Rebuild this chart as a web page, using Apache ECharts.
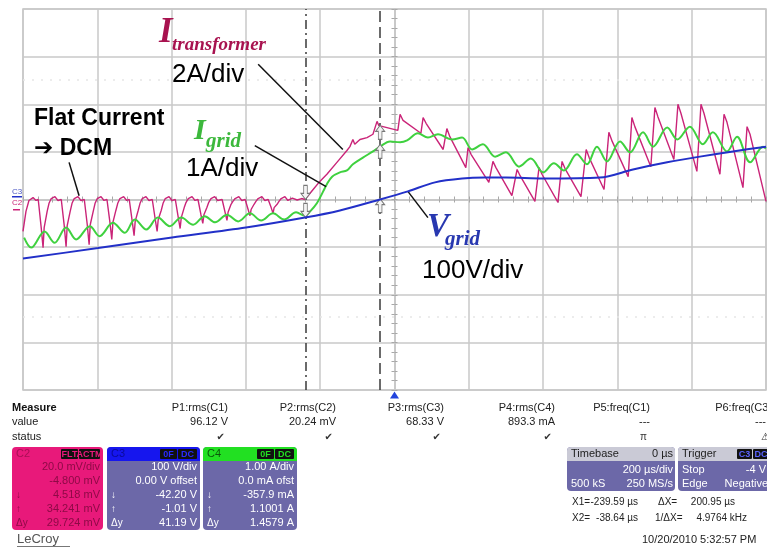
<!DOCTYPE html>
<html>
<head>
<meta charset="utf-8">
<script src="https://cdn.jsdelivr.net/npm/echarts@6/dist/echarts.min.js"></script>
<style>
html, body { margin: 0; padding: 0; background: #ffffff; }
#chart { width: 767px; height: 548px; }
</style>
</head>
<body>
<div id="chart"></div>
<script>
// Trace samples: [time in µs, vertical position in screen divisions]
const vGridTrace = [
  [-1000, -1.24], [-798, -1.02], [-599, -0.80], [-400, -0.59], [-241, -0.38], [-147, -0.23],
  [-39, 0.0], [36, 0.17], [109, 0.36], [182, 0.44], [243, 0.46], [300, 0.46], [400, 0.44],
  [553, 0.46], [642, 0.63], [734, 0.78], [822, 0.90], [911, 1.01], [1000, 1.11]
];

const iGridTrace = [
  [-997, -0.80], [-978, -1.01], [-942, -0.67], [-915, -0.91], [-884, -0.59], [-857, -0.84],
  [-820, -0.56], [-794, -0.77], [-758, -0.49], [-726, -0.70], [-699, -0.42], [-668, -0.63],
  [-637, -0.38], [-605, -0.56], [-574, -0.38], [-542, -0.53], [-511, -0.35], [-483, -0.48],
  [-451, -0.32], [-421, -0.46], [-389, -0.29], [-359, -0.44], [-327, -0.29], [-297, -0.42],
  [-265, -0.27], [-241, -0.34], [-227, -0.25], [-209, -0.08], [-192, 0.17], [-182, 0.32],
  [-168, 0.48], [-147, 0.57], [-128, 0.61], [-112, 0.74], [-85, 0.88], [-58, 1.01],
  [-39, 1.11], [-12, 1.22], [15, 1.20], [34, 1.24], [63, 1.39], [90, 1.30], [117, 1.37],
  [155, 1.26], [182, 1.30], [209, 1.05], [238, 1.16], [271, 0.90], [300, 0.99], [335, 0.69],
  [367, 0.86], [400, 0.57], [429, 0.76], [456, 0.61], [491, 0.95], [518, 0.74], [545, 1.11],
  [572, 0.80], [607, 1.22], [634, 0.99], [669, 1.41], [696, 1.11], [734, 1.51], [761, 1.26],
  [795, 1.53], [830, 1.16], [857, 1.41], [895, 1.01], [922, 1.32], [957, 0.78], [992, 1.11],
  [1000, 1.07]
];

const iTransformerTrace = [
  [-1000, -0.67], [-992, -0.25], [-984, -0.02], [-973, 0.04], [-965, -0.02],
  [-959, 0], [-951, -0.59], [-946, -1.01], [-943, -0.59], [-935, -0.25], [-930, -0.08], [-924, 0.02], [-914, 0.06], [-906, -0.02],
  [-897, 0], [-889, -0.55], [-884, -0.99], [-881, -0.55], [-873, -0.25], [-868, -0.08], [-862, 0.02], [-852, 0.06], [-844, -0.02],
  [-835, 0], [-827, -0.53], [-822, -0.95], [-819, -0.53], [-811, -0.25], [-806, -0.08], [-800, 0.02], [-790, 0.06], [-782, -0.02],
  [-774, 0], [-766, -0.48], [-761, -0.84], [-758, -0.48], [-750, -0.23], [-745, -0.08], [-739, 0.02], [-729, 0.06], [-721, -0.02],
  [-714, 0], [-706, -0.46], [-701, -0.76], [-698, -0.46], [-690, -0.23], [-685, -0.08], [-679, 0.02], [-669, 0.06], [-661, -0.02],
  [-652, 0], [-644, -0.42], [-639, -0.67], [-636, -0.42], [-628, -0.23], [-623, -0.08], [-617, 0.02], [-607, 0.06], [-599, -0.02],
  [-590, 0], [-582, -0.38], [-577, -0.61], [-574, -0.38], [-566, -0.17], [-561, -0.06], [-555, 0.02], [-545, 0.06], [-537, -0.02],
  [-529, 0], [-521, -0.32], [-516, -0.50], [-513, -0.32], [-505, -0.17], [-500, -0.06], [-494, 0.02], [-484, 0.06], [-476, -0.02],
  [-464, 0], [-456, -0.27], [-451, -0.44], [-448, -0.27], [-440, -0.10], [-435, -0.04], [-429, 0.02], [-419, 0.06], [-411, -0.02],
  [-402, 0], [-394, -0.21], [-389, -0.34], [-386, -0.21], [-378, -0.10], [-373, -0.04], [-367, 0.02], [-357, 0.06], [-349, -0.02],
  [-340, 0], [-332, -0.17], [-327, -0.29], [-324, -0.17], [-316, -0.10], [-311, -0.04], [-305, 0.02], [-295, 0.06], [-287, -0.02],
  [-275, 0.03], [-262, -0.01], [-250, 0.02], [-241, 0.0],
  [-219, 0.21], [-201, 0.38], [-182, 0.53], [-155, 0.78], [-128, 1.03], [-120, 1.11], [-112, 1.26],
  [-107, 1.16], [-93, 1.26], [-74, 1.30], [-58, 1.37], [-47, 1.64], [-42, 1.55], [-31, 1.53],
  [9, 1.45], [15, 1.79], [23, 1.66], [71, 1.39], [77, 1.72], [85, 1.60], [131, 1.05], [141, 1.49],
  [149, 1.32], [192, 0.67], [198, 1.09], [206, 0.95], [254, 0.36], [265, 0.80], [273, 0.67],
  [316, 0.08], [330, 0.63], [338, 0.50], [378, -0.04], [389, 0.67], [397, 0.53], [440, -0.06],
  [451, 0.80], [459, 0.65], [502, 0.06], [516, 1.05], [524, 0.88], [564, 0.21], [577, 1.41],
  [586, 1.22], [629, 0.48], [639, 1.72], [647, 1.53], [690, 0.69], [701, 1.93], [709, 1.74],
  [752, 0.84], [763, 2.00], [771, 1.81], [814, 0.59], [825, 2.00], [833, 1.81], [876, 0.53],
  [887, 1.79], [895, 1.62], [938, 0.25], [949, 1.53], [957, 1.37], [1000, -0.04]
];

// Cursor positions (µs)
const cursorX1 = -239.59;
const cursorX2 = -38.64;

// Measurement table
const measureHeads = ['P1:rms(C1)', 'P2:rms(C2)', 'P3:rms(C3)', 'P4:rms(C4)', 'P5:freq(C1)', 'P6:freq(C3)'];
const measureValues = ['96.12 V', '20.24 mV', '68.33 V', '893.3 mA', '---', '---'];
const measureStatus = ['\u2714', '\u2714', '\u2714', '\u2714', '\u03c0', '\u26a0'];

// Channel descriptor boxes
const c2Lines = ['20.0 mV/div', '-4.800 mV', '4.518 mV', '34.241 mV', '29.724 mV'];
const c3Lines = ['100 V/div', '0.00 V offset', '-42.20 V', '-1.01 V', '41.19 V'];
const c4Lines = ['1.00 A/div', '0.0 mA ofst', '-357.9 mA', '1.1001 A', '1.4579 A'];
const rowSymbols = ['\u2193', '\u2191', '\u0394y'];

const SANS = '"Liberation Sans", Arial, "DejaVu Sans", sans-serif';
const SERIF = '"Liberation Serif", "Times New Roman", serif';

const PINK = '#ca2478';
const GREEN = '#3fd13f';
const BLUE = '#2230c8';
const SLATE = '#6c68a8';

function txt(x, y, text, size, fill, opt) {
  opt = opt || {};
  return {
    type: 'text', x: x, y: y, z: 100, silent: true,
    style: {
      text: text,
      font: (opt.style || 'normal') + ' ' + (opt.weight || 'normal') + ' ' + size + 'px ' + (opt.family || SANS),
      fill: fill,
      align: opt.align || 'left',
      verticalAlign: 'middle'
    }
  };
}
function box(x, y, w, h, fill, r) {
  return { type: 'rect', z: 90, silent: true, shape: { x: x, y: y, width: w, height: h, r: r || 0 }, style: { fill: fill } };
}

function channelBox(x, w, cfg) {
  const els = [];
  const rows = [467, 481, 495, 509, 523];
  els.push(box(x, 447, w, 83, cfg.body, 4));
  if (cfg.head) els.push(box(x, 447, w, 14, cfg.head, [4, 4, 0, 0]));
  els.push(txt(x + 4, 454, cfg.name, 11, cfg.nameFill));
  let bx = x + w - 2;
  for (let i = cfg.badges.length - 1; i >= 0; i--) {
    const b = cfg.badges[i];
    bx -= b.w;
    els.push(box(bx, 449, b.w - 1, 10, '#111111', 1));
    els.push(txt(bx + (b.w - 1) / 2, 454.5, b.text, 9, cfg.badgeFill, { align: 'center', weight: 'bold' }));
  }
  cfg.lines.forEach(function (s, i) {
    els.push(txt(x + w - 3, rows[i], s, 11, cfg.textFill, { align: 'right' }));
  });
  rowSymbols.forEach(function (s, i) {
    els.push(txt(x + 4, rows[i + 2], s, 10, cfg.textFill));
  });
  return els;
}

const graphics = [];

// Channel markers at the left edge of the graticule
graphics.push(txt(12, 192, 'C3', 8, '#4a56c4'));
graphics.push(box(12, 196, 10, 1.5, BLUE));
graphics.push(txt(12, 202.5, 'C2', 8, PINK));
graphics.push(box(13, 209, 7, 1.5, PINK));

// Waveform annotations
graphics.push(txt(159, 33, 'I', 35, '#a8124f', { style: 'italic', weight: 'bold', family: SERIF }));
graphics.push(txt(172, 45, 'transformer', 19, '#a8124f', { style: 'italic', weight: 'bold', family: SERIF }));
graphics.push(txt(172, 75, '2A/div', 26, '#000000'));
graphics.push(txt(34, 119, 'Flat Current', 23, '#000000', { weight: 'bold' }));
graphics.push(txt(34, 149, '\u2794 DCM', 23, '#000000', { weight: 'bold' }));
graphics.push(txt(194, 131, 'I', 30, '#3cb83c', { style: 'italic', weight: 'bold', family: SERIF }));
graphics.push(txt(206, 142, 'grid', 21, '#3cb83c', { style: 'italic', weight: 'bold', family: SERIF }));
graphics.push(txt(186, 169, '1A/div', 26, '#000000'));
graphics.push(txt(427, 227, 'V', 33, '#2838b0', { style: 'italic', weight: 'bold', family: SERIF }));
graphics.push(txt(445, 240, 'grid', 21, '#2838b0', { style: 'italic', weight: 'bold', family: SERIF }));
graphics.push(txt(422, 271, '100V/div', 26, '#000000'));

// Measurement table
const headRight = [228, 336, 444, 555, 650, 772];
graphics.push(txt(12, 408, 'Measure', 11, '#111111', { weight: 'bold' }));
graphics.push(txt(12, 422, 'value', 11, '#222222'));
graphics.push(txt(12, 437, 'status', 11, '#222222'));
measureHeads.forEach(function (s, i) {
  graphics.push(txt(headRight[i], 408, s, 11, '#222222', { align: 'right' }));
  graphics.push(txt(headRight[i] - (i === 5 ? 6 : 0), 422, measureValues[i], 11, '#222222', { align: 'right' }));
  graphics.push(txt(headRight[i] - (i === 5 ? 2 : 3), 437, measureStatus[i], 10, '#333333', { align: 'right' }));
});

// Channel boxes
channelBox(12, 91, {
  body: '#e8197a', head: null, name: 'C2', nameFill: '#a80f55',
  badges: [{ text: 'FLT', w: 18 }, { text: 'ACTM', w: 22 }], badgeFill: '#e8197a',
  lines: c2Lines, textFill: '#8e0a46'
}).forEach(function (e) { graphics.push(e); });
channelBox(107, 93, {
  body: SLATE, head: '#1616ee', name: 'C3', nameFill: '#0b0b9a',
  badges: [{ text: '0F', w: 18 }, { text: 'DC', w: 20 }], badgeFill: '#2a2aff',
  lines: c3Lines, textFill: '#ffffff'
}).forEach(function (e) { graphics.push(e); });
channelBox(203, 94, {
  body: SLATE, head: '#22e022', name: 'C4', nameFill: '#0a5a0a',
  badges: [{ text: '0F', w: 18 }, { text: 'DC', w: 20 }], badgeFill: '#22e022',
  lines: c4Lines, textFill: '#ffffff'
}).forEach(function (e) { graphics.push(e); });

// Timebase and trigger boxes
graphics.push(box(567, 447, 108, 44, SLATE, 4));
graphics.push(box(567, 447, 108, 14, '#cacad6', [4, 4, 0, 0]));
graphics.push(txt(571, 454, 'Timebase', 11, '#222222'));
graphics.push(txt(673, 454, '0 \u00b5s', 11, '#222222', { align: 'right' }));
graphics.push(txt(673, 470, '200 \u00b5s/div', 11, '#ffffff', { align: 'right' }));
graphics.push(txt(571, 484, '500 kS', 11, '#ffffff'));
graphics.push(txt(673, 484, '250 MS/s', 11, '#ffffff', { align: 'right' }));

graphics.push(box(678, 447, 95, 44, SLATE, 4));
graphics.push(box(678, 447, 95, 14, '#cacad6', [4, 4, 0, 0]));
graphics.push(txt(682, 454, 'Trigger', 11, '#222222'));
graphics.push(box(737, 449, 15, 10, '#111111', 1));
graphics.push(txt(744.5, 454.5, 'C3', 9, '#5a64ff', { align: 'center', weight: 'bold' }));
graphics.push(box(753, 449, 16, 10, '#111111', 1));
graphics.push(txt(761, 454.5, 'DC', 9, '#5a64ff', { align: 'center', weight: 'bold' }));
graphics.push(txt(682, 470, 'Stop', 11, '#ffffff'));
graphics.push(txt(766, 470, '-4 V', 11, '#ffffff', { align: 'right' }));
graphics.push(txt(682, 484, 'Edge', 11, '#ffffff'));
graphics.push(txt(768, 484, 'Negative', 11, '#ffffff', { align: 'right' }));

// Cursor readouts
function fmt(v, d) { return v.toFixed(d); }
graphics.push(txt(572, 502, 'X1=', 10, '#222222'));
graphics.push(txt(638, 502, fmt(cursorX1, 2) + ' \u00b5s', 10, '#222222', { align: 'right' }));
graphics.push(txt(658, 502, '\u0394X=', 10, '#222222'));
graphics.push(txt(735, 502, fmt(cursorX2 - cursorX1, 2) + ' \u00b5s', 10, '#222222', { align: 'right' }));
graphics.push(txt(572, 518, 'X2=', 10, '#222222'));
graphics.push(txt(638, 518, fmt(cursorX2, 2) + ' \u00b5s', 10, '#222222', { align: 'right' }));
graphics.push(txt(655, 518, '1/\u0394X=', 10, '#222222'));
graphics.push(txt(747, 518, fmt(1000 / (cursorX2 - cursorX1), 4) + ' kHz', 10, '#222222', { align: 'right' }));

graphics.push(txt(642, 540, '10/20/2010 5:32:57 PM', 11, '#222222'));
graphics.push(txt(17, 539, 'LeCroy', 13, '#555555'));
graphics.push(box(17, 546, 53, 1, '#777777'));

const arrowDown = 'path://M3,0 L7,0 L7,8 L10,8 L5,14 L0,8 L3,8 Z';
const arrowUp = 'path://M5,0 L10,6 L7,6 L7,14 L3,14 L3,6 L0,6 Z';
const cursorMarker = { color: '#f3f3f3', borderColor: '#777777', borderWidth: 1 };

const chart = echarts.init(document.getElementById('chart'), null, { renderer: 'canvas' });

const axisCommon = {
  axisLabel: { show: false },
  axisLine: { show: true, onZero: true, lineStyle: { color: '#c8c8c8', width: 1.5 } },
  axisTick: { show: true, length: 3, lineStyle: { color: '#a8a8a8', width: 1 } },
  minorTick: { show: true, splitNumber: 5, length: 3, lineStyle: { color: '#a8a8a8', width: 1 } },
  splitLine: { show: false }
};

chart.setOption({
  animation: false,
  backgroundColor: '#ffffff',
  grid: {
    left: 23, top: 9, width: 743, height: 381,
    show: true, borderColor: '#c4c4c4', borderWidth: 1.5,
    outerBoundsMode: 'none'
  },
  xAxis: [
    Object.assign({}, axisCommon, {
      type: 'value', min: -1000, max: 1000, interval: 200, position: 'bottom',
      splitLine: { show: true, lineStyle: { color: '#c8c8c8', width: 1.5 } }
    }),
    Object.assign({}, axisCommon, {
      type: 'value', min: -1000, max: 1000, interval: 200, position: 'top'
    })
  ],
  yAxis: [
    Object.assign({}, axisCommon, {
      type: 'value', min: -4, max: 4, interval: 1, position: 'left',
      splitLine: { show: true, lineStyle: { color: '#c8c8c8', width: 1.5 } }
    }),
    Object.assign({}, axisCommon, {
      type: 'value', min: -4, max: 4, interval: 1, position: 'right'
    })
  ],
  graphic: graphics,
  series: [
    {
      name: 'I transformer', type: 'line', xAxisIndex: 0, yAxisIndex: 0,
      data: iTransformerTrace, showSymbol: false, smooth: false, z: 3,
      lineStyle: { color: PINK, width: 1.4 },
      markLine: {
        silent: true, symbol: ['none', 'none'], label: { show: false },
        lineStyle: { color: '#3a3a3a', width: 1.5 },
        data: [
          { xAxis: cursorX1, lineStyle: { type: [9, 4, 2, 4], color: '#3a3a3a', width: 1.5 } },
          { xAxis: cursorX2, lineStyle: { type: [11, 5], color: '#3a3a3a', width: 1.5 } },
          { yAxis: 2.52, lineStyle: { type: [2, 7], color: '#e6e6e6', width: 1.5 } },
          { yAxis: -2.46, lineStyle: { type: [2, 7], color: '#e6e6e6', width: 1.5 } }
        ]
      }
    },
    {
      name: 'I grid', type: 'line', xAxisIndex: 0, yAxisIndex: 0,
      data: iGridTrace, showSymbol: false, smooth: 0.35, z: 4,
      lineStyle: { color: GREEN, width: 2 },
      markPoint: {
        silent: true, label: { show: false },
        data: [
          { coord: [cursorX1, 0.15], symbol: arrowDown, symbolSize: [9, 14], itemStyle: cursorMarker },
          { coord: [cursorX1, -0.23], symbol: arrowDown, symbolSize: [9, 14], itemStyle: cursorMarker },
          { coord: [cursorX2, 1.41], symbol: arrowUp, symbolSize: [9, 14], itemStyle: cursorMarker },
          { coord: [cursorX2, 1.01], symbol: arrowUp, symbolSize: [9, 14], itemStyle: cursorMarker },
          { coord: [cursorX2, -0.13], symbol: arrowUp, symbolSize: [9, 14], itemStyle: cursorMarker },
          { coord: [0, -4], symbol: 'triangle', symbolSize: [9, 7], symbolOffset: [0, 5], itemStyle: { color: '#2244dd' } }
        ]
      }
    },
    {
      name: 'V grid', type: 'line', xAxisIndex: 0, yAxisIndex: 0,
      data: vGridTrace, showSymbol: false, smooth: 0.3, z: 5,
      lineStyle: { color: BLUE, width: 2 },
      markLine: {
        silent: true, symbol: ['none', 'arrow'], symbolSize: [0, 9], label: { show: false },
        lineStyle: { color: '#111111', width: 1.5, type: 'solid' },
        data: [
          [{ coord: [-876, 0.78] }, { coord: [-849, 0.08] }],
          [{ coord: [-367, 2.84] }, { coord: [-139, 1.05] }],
          [{ coord: [-376, 1.13] }, { coord: [-184, 0.27] }],
          [{ coord: [90, -0.38] }, { coord: [36, 0.17] }]
        ]
      }
    }
  ]
});
</script>
</body>
</html>
